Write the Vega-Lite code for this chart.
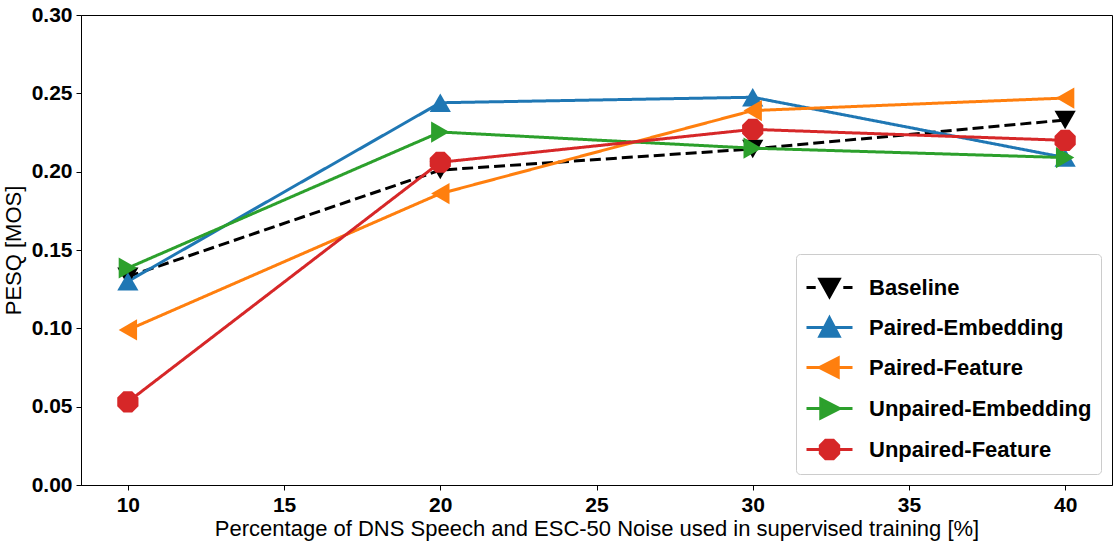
{
  "$schema": "https://vega.github.io/schema/vega-lite/v6.json",
  "width": 1031,
  "height": 470,
  "autosize": "none",
  "padding": {"left": 81, "top": 15, "right": 6, "bottom": 57},
  "background": "white",
  "data": {
    "values": [
      {"x": 10, "series": "Baseline", "y": 0.133},
      {"x": 20, "series": "Baseline", "y": 0.201},
      {"x": 30, "series": "Baseline", "y": 0.2145},
      {"x": 40, "series": "Baseline", "y": 0.233},
      {"x": 10, "series": "Paired-Embedding", "y": 0.130},
      {"x": 20, "series": "Paired-Embedding", "y": 0.244},
      {"x": 30, "series": "Paired-Embedding", "y": 0.2475},
      {"x": 40, "series": "Paired-Embedding", "y": 0.209},
      {"x": 10, "series": "Paired-Feature", "y": 0.099},
      {"x": 20, "series": "Paired-Feature", "y": 0.186},
      {"x": 30, "series": "Paired-Feature", "y": 0.239},
      {"x": 40, "series": "Paired-Feature", "y": 0.247},
      {"x": 10, "series": "Unpaired-Embedding", "y": 0.1385},
      {"x": 20, "series": "Unpaired-Embedding", "y": 0.2253},
      {"x": 30, "series": "Unpaired-Embedding", "y": 0.215},
      {"x": 40, "series": "Unpaired-Embedding", "y": 0.209},
      {"x": 10, "series": "Unpaired-Feature", "y": 0.053},
      {"x": 20, "series": "Unpaired-Feature", "y": 0.206},
      {"x": 30, "series": "Unpaired-Feature", "y": 0.227},
      {"x": 40, "series": "Unpaired-Feature", "y": 0.220}
    ]
  },
  "encoding": {
    "x": {
      "field": "x", "type": "quantitative",
      "scale": {"domain": [8.5, 41.5], "nice": false, "zero": false},
      "axis": {"values": [10, 15, 20, 25, 30, 35, 40], "format": "d",
               "title": "Percentage of DNS Speech and ESC-50 Noise used in supervised training [%]",
               "titlePadding": 3, "titleFontSize": 22}
    },
    "y": {
      "field": "y", "type": "quantitative",
      "scale": {"domain": [0, 0.3], "nice": false, "zero": true},
      "axis": {"values": [0, 0.05, 0.1, 0.15, 0.2, 0.25, 0.3], "format": ".2f",
               "title": "PESQ [MOS]", "titlePadding": 6, "titleFontSize": 22}
    },
    "color": {
      "field": "series", "type": "nominal",
      "scale": {
        "domain": ["Baseline", "Paired-Embedding", "Paired-Feature", "Unpaired-Embedding", "Unpaired-Feature"],
        "range": ["#000000", "#1f77b4", "#ff7f0e", "#2ca02c", "#d62728"]
      },
      "legend": {
        "title": null,
        "orient": "bottom-right",
        "offset": 11,
        "symbolSize": 2116,
        "symbolStrokeWidth": 3,
        "labelFontSize": 22,
        "labelFontWeight": "bold",
        "labelFont": "Liberation Sans",
        "labelColor": "black",
        "labelLimit": 400,
        "labelOffset": 15,
        "rowPadding": -10,
        "padding": 9,
        "strokeColor": "#cccccc",
        "fillColor": "rgba(255,255,255,0.8)",
        "cornerRadius": 4,
        "encode": {
          "symbols": {
            "update": {
              "shape": {"signal": "datum.value === 'Baseline' ? 'M-1,0H-0.6M0.6,0H1M-0.42,-0.36L0.42,-0.36L0,0.4Z' : datum.value === 'Paired-Embedding' ? 'M-1,0H1M0,-0.42L0.42,0.38L-0.42,0.38Z' : datum.value === 'Paired-Feature' ? 'M-1,0H1M-0.44,0L0.38,-0.42L0.38,0.42Z' : datum.value === 'Unpaired-Embedding' ? 'M-1,0H1M0.44,0L-0.38,-0.42L-0.38,0.42Z' : 'M-1,0H1M-0.17,-0.4L0.17,-0.4L0.4,-0.17L0.4,0.17L0.17,0.4L-0.17,0.4L-0.4,0.17L-0.4,-0.17Z'"},
              "strokeWidth": {"value": 3}
            }
          }
        }
      }
    }
  },
  "layer": [
    {
      "mark": {"type": "line", "strokeWidth": 3},
      "encoding": {
        "strokeDash": {
          "field": "series", "type": "nominal", "legend": null,
          "scale": {
            "domain": ["Paired-Embedding", "Baseline", "Paired-Feature", "Unpaired-Embedding", "Unpaired-Feature"],
            "range": [[1, 0], [11, 5], [1, 0], [1, 0], [1, 0]]
          }
        }
      }
    },
    {
      "mark": {"type": "point", "filled": true, "opacity": 1, "size": 450},
      "encoding": {
        "shape": {
          "field": "series", "type": "nominal", "legend": null,
          "scale": {
            "domain": ["Unpaired-Feature", "Baseline", "Paired-Embedding", "Paired-Feature", "Unpaired-Embedding"],
            "range": ["M-0.41,-1L0.41,-1L1,-0.41L1,0.41L0.41,1L-0.41,1L-1,0.41L-1,-0.41Z",
                      "triangle-down", "triangle-up", "triangle-left", "triangle-right"]
          }
        }
      }
    }
  ],
  "config": {
    "font": "Liberation Sans",
    "view": {"stroke": "black", "strokeWidth": 1},
    "axis": {
      "grid": false,
      "domainColor": "black",
      "tickColor": "black",
      "tickSize": 5,
      "labelFont": "Liberation Sans",
      "labelFontSize": 21,
      "labelFontWeight": "bold",
      "labelColor": "black",
      "labelPadding": 4,
      "titleFont": "Liberation Sans",
      "titleFontWeight": "normal",
      "titleColor": "black"
    }
  }
}
